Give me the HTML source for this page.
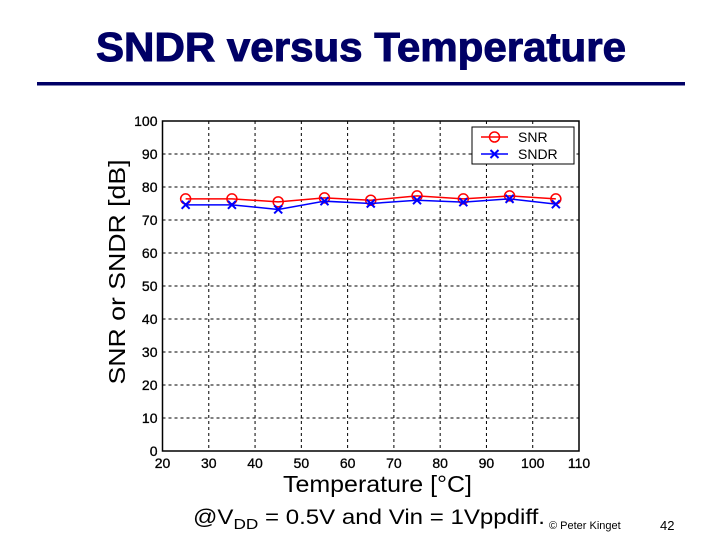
<!DOCTYPE html>
<html><head><meta charset="utf-8"><style>
body{margin:0;background:#fff;width:720px;height:540px;overflow:hidden;font-family:"Liberation Sans",sans-serif;}
</style></head><body>
<svg width="720" height="540" xmlns="http://www.w3.org/2000/svg" font-family="Liberation Sans, sans-serif">
<text x="96" y="61" textLength="530" lengthAdjust="spacingAndGlyphs" font-size="41" font-weight="bold" fill="#000066" stroke="#000066" stroke-width="1">SNDR versus Temperature</text>
<rect x="37" y="82" width="648" height="3.5" fill="#000066"/>
<g id="chart"></g>
<text x="193" y="524" textLength="352" lengthAdjust="spacingAndGlyphs" font-size="21">@V<tspan font-size="15" dy="5">DD</tspan><tspan dy="-5"> = 0.5V and Vin = 1Vppdiff.</tspan></text>
<text x="549" y="529" font-size="11">© Peter Kinget</text>
<text x="660" y="530" font-size="13">42</text>
</svg>
<script>
const temps=[25,35,45,55,65,75,85,95,105];
const snr=[76.4,76.4,75.5,76.7,76,77.3,76.4,77.3,76.4];
const sndr=[74.6,74.6,73.2,75.7,75,76,75.4,76.4,74.8];
const xTicks=[20,30,40,50,60,70,80,90,100,110];
const yTicks=[0,10,20,30,40,50,60,70,80,90,100];
const NS='http://www.w3.org/2000/svg';
const L=162.5,R=579,T=121,B=451;
const xs=v=>L+(v-20)/90*(R-L);
const ys=v=>B-v/100*(B-T);
const g=document.getElementById('chart');
function mk(t,a){const e=document.createElementNS(NS,t);for(const k in a)e.setAttribute(k,a[k]);g.appendChild(e);return e;}
xTicks.forEach(v=>{
 if(v>20&&v<110){const l=mk('line',{x1:xs(v),x2:xs(v),y1:T,y2:B,stroke:'#000','stroke-width':1,'stroke-dasharray':'3,3'});
 
 }
 const t=mk('text',{x:xs(v),y:B+17,'text-anchor':'middle','font-size':14,stroke:'#000','stroke-width':0.3});t.textContent=v;
 
 
});
yTicks.forEach(v=>{
 if(v>0&&v<100){const l=mk('line',{x1:L,x2:R,y1:ys(v),y2:ys(v),stroke:'#000','stroke-width':1,'stroke-dasharray':'3,3'});
 
 }
 const t=mk('text',{x:L-5,y:ys(v)+5,'text-anchor':'end','font-size':14,stroke:'#000','stroke-width':0.3});t.textContent=v;
 
 
});
const fr=mk('rect',{x:L,y:T,width:R-L,height:B-T,fill:'none',stroke:'#000','stroke-width':1.5});


const xl=mk('text',{x:283,y:B+41,textLength:189,lengthAdjust:'spacingAndGlyphs','font-size':23});xl.textContent='Temperature [°C]';


const yl=mk('text',{x:0,y:0,'text-anchor':'middle',textLength:225,lengthAdjust:'spacingAndGlyphs','font-size':23,transform:`translate(125,272) rotate(-90)`});yl.textContent='SNR or SNDR [dB]';


function series(vals,color,marker,name){
 const p=mk('polyline',{points:temps.map((t,i)=>xs(t)+','+ys(vals[i])).join(' '),fill:'none',stroke:color,'stroke-width':1.5});
 
 
 temps.forEach((t,i)=>{const x=xs(t),y=ys(vals[i]);let m;
  if(marker==='o'){m=mk('circle',{cx:x,cy:y,r:5,fill:'none',stroke:color,'stroke-width':1.5});}
  else{m=mk('path',{d:`M${x-4},${y-4}L${x+4},${y+4}M${x-4},${y+4}L${x+4},${y-4}`,stroke:color,'stroke-width':2});}
  
  
 });
}
series(snr,'#f00','o','snr');
series(sndr,'#00f','x','sndr');
const lb=mk('rect',{x:472,y:127,width:102,height:37,fill:'#fff',stroke:'#000','stroke-width':1});


mk('line',{x1:481,x2:508,y1:137,y2:137,stroke:'#f00','stroke-width':1.5});
mk('circle',{cx:494.5,cy:137,r:5,fill:'none',stroke:'#f00','stroke-width':1.5});
const t1=mk('text',{x:518,y:142,'font-size':14});t1.textContent='SNR';


mk('line',{x1:481,x2:508,y1:154,y2:154,stroke:'#00f','stroke-width':1.5});
mk('path',{d:'M490.5,150L498.5,158M490.5,158L498.5,150',stroke:'#00f','stroke-width':2});
const t2=mk('text',{x:518,y:159,'font-size':14});t2.textContent='SNDR';


</script>
</body></html>
